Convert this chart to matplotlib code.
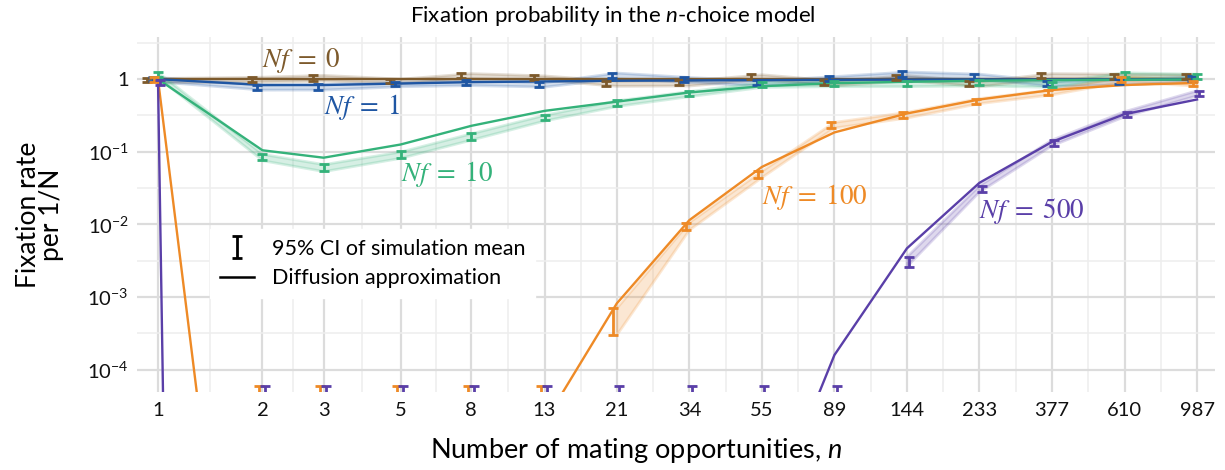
import numpy as np
import matplotlib.pyplot as plt
from matplotlib.ticker import FixedLocator, FixedFormatter, NullFormatter

plt.rcParams['font.family'] = ['Lato', 'DejaVu Sans']
plt.rcParams['mathtext.fontset'] = 'custom'
plt.rcParams['mathtext.rm'] = 'Lato'
plt.rcParams['mathtext.it'] = 'Lato:italic'

# number of mating opportunities (x categories)
n_vals = [1, 2, 3, 5, 8, 13, 21, 34, 55, 89, 144, 233, 377, 610, 987]
n_labels = [str(v) for v in n_vals]

# diffusion approximation (lines)
nf0_line = [1.0, 1.0, 1.0, 1.0, 1.0, 1.0, 1.0, 1.0, 1.0, 1.0, 1.0, 1.0, 1.0, 1.0, 1.0]
nf1_line = [1.0, 0.83, 0.83, 0.87, 0.91, 0.93, 0.95, 0.96, 0.97, 0.98, 0.985, 0.99, 0.99, 0.995, 0.995]
nf10_line = [1.0, 0.105, 0.083, 0.126, 0.228, 0.366, 0.49, 0.656, 0.80, 0.88, 0.92, 0.95, 0.97, 0.98, 0.99]
nf100_line = [1.0, 2.5e-12, 1e-10, 1e-8, 3e-7, 1.9e-5, 8.2e-4, 0.0115, 0.062, 0.185, 0.337, 0.525, 0.71, 0.83, 0.89]
nf500_line = [1.0, 1e-90, 1e-70, 1e-50, 1e-35, 1e-24, 1e-16, 1e-11, 5.5e-7, 1.6e-4, 4.7e-3, 0.0375, 0.137, 0.33, 0.525]

# simulation means (0 = no fixation observed)
nf0_sim = [0.97, 1.0, 1.05, 0.95, 1.12, 1.05, 0.88, 0.89, 1.08, 0.89, 1.05, 0.87, 1.12, 1.10, 1.08]
nf1_sim = [1.0, 0.78, 0.79, 0.86, 0.90, 0.85, 1.13, 0.99, 0.89, 1.02, 1.17, 1.10, 0.87, 0.92, 1.02]
nf10_sim = [1.15, 0.085, 0.061, 0.092, 0.164, 0.297, 0.47, 0.635, 0.85, 0.87, 0.87, 0.89, 0.85, 1.15, 1.10]
nf100_sim = [1.0, 0, 0, 0, 0, 0, 5e-4, 9.5e-3, 0.049, 0.233, 0.32, 0.50, 0.66, 1.0, 0.87]
nf500_sim = [0.9, 0, 0, 0, 0, 0, 0, 0, 0, 0, 3.1e-3, 0.031, 0.133, 0.33, 0.64]

# relative half-width of the 95% CI
nf0_err = [0.07, 0.08, 0.09, 0.07, 0.08, 0.07, 0.08, 0.08, 0.08, 0.08, 0.08, 0.08, 0.08, 0.08, 0.08]
nf1_err = [0.07, 0.08, 0.09, 0.07, 0.08, 0.07, 0.09, 0.08, 0.08, 0.08, 0.09, 0.08, 0.08, 0.08, 0.08]
nf10_err = [0.08, 0.10, 0.11, 0.10, 0.10, 0.09, 0.09, 0.08, 0.08, 0.08, 0.08, 0.08, 0.08, 0.08, 0.08]
nf100_err = [0.08, 0, 0, 0, 0, 0, 0.40, 0.12, 0.10, 0.09, 0.09, 0.08, 0.08, 0.08, 0.08]
nf500_err = [0.08, 0, 0, 0, 0, 0, 0, 0, 0, 0, 0.15, 0.10, 0.09, 0.08, 0.08]
zero_upper = 6e-5  # upper CI bound when no fixation was observed

series = [
    (r'$Nf\;=\;0$', nf0_line, nf0_sim, nf0_err, '#7d5a2c', -0.07),
    (r'$Nf\;=\;1$', nf1_line, nf1_sim, nf1_err, '#1f56a3', -0.035),
    (r'$Nf\;=\;10$', nf10_line, nf10_sim, nf10_err, '#34b27a', 0.0),
    (r'$Nf\;=\;100$', nf100_line, nf100_sim, nf100_err, '#ee8a26', -0.025),
    (r'$Nf\;=\;500$', nf500_line, nf500_sim, nf500_err, '#5a3fa8', 0.015),
]
label_pos = [(2.0, 1.83), (3.0, 0.41), (5.0, 0.049), (55.0, 0.024), (233.0, 0.0152)]

fig = plt.figure(figsize=(12.25, 4.70), dpi=100)
ax = fig.add_axes([137/1225, 1 - 392/470, (1215 - 137)/1225, (392 - 37)/470])
ax.set_xscale('log')
ax.set_yscale('log')
ax.set_xlim(0.87, 1112)
ax.set_ylim(10**-4.305, 10**0.58)

x = np.array(n_vals, dtype=float)
for (name, line, sim, err, col, dodge), (lx, ly) in zip(series, label_pos):
    sim = np.array(sim, dtype=float)
    err = np.array(err, dtype=float)
    pos = sim > 0
    lo = np.where(pos, sim * (1 - err), 1e-30)
    hi = np.where(pos, sim * (1 + err), zero_upper)
    mid = np.where(pos, sim, hi)
    # ribbon of the simulation CI
    ax.fill_between(x, np.where(pos, lo, np.nan), np.where(pos, hi, np.nan),
                    color=col, alpha=0.2, lw=2.0, edgecolor=col, zorder=2)
    ax.plot(x, line, color=col, lw=1.7, zorder=3)
    ax.errorbar(x * np.exp(dodge), mid, yerr=[mid - lo, hi - mid], fmt='none',
                ecolor=col, elinewidth=2.0, capsize=3.5, capthick=2.0, zorder=4)
    ax.text(lx, ly, name, color=col, fontsize=19.5, math_fontfamily='stix',
            ha='left', va='center', zorder=5)

# grid
ax.xaxis.set_major_locator(FixedLocator(n_vals))
ax.xaxis.set_major_formatter(FixedFormatter(n_labels))
ax.xaxis.set_minor_locator(FixedLocator([np.sqrt(a * b) for a, b in zip(n_vals[:-1], n_vals[1:])]))
ax.xaxis.set_minor_formatter(NullFormatter())
yt = [1e-4, 1e-3, 1e-2, 1e-1, 1]
ax.yaxis.set_major_locator(FixedLocator(yt))
ax.yaxis.set_major_formatter(FixedFormatter(['$10^{-4}$', '$10^{-3}$', '$10^{-2}$', '$10^{-1}$', '1']))
ax.yaxis.set_minor_locator(FixedLocator([10**(k + 0.5) for k in range(-5, 1)]))
ax.yaxis.set_minor_formatter(NullFormatter())
ax.grid(True, which='major', color='#dcdcdc', lw=1.6)
ax.grid(True, which='minor', color='#eeeeee', lw=1.1)
ax.set_axisbelow(True)
for s in ax.spines.values():
    s.set_visible(False)
ax.tick_params(which='both', length=0, labelsize=14.5, colors='#111111')
ax.tick_params(axis='x', pad=7)
ax.tick_params(axis='y', pad=6)

# legend
eb = ax.errorbar([np.nan], [np.nan], yerr=[[0.1], [0.1]], fmt='none', ecolor='black',
                 elinewidth=2.0, capsize=3.5, capthick=2.0)
ln, = ax.plot([], [], color='black', lw=1.8)
leg = ax.legend([eb, ln], ['95% CI of simulation mean', 'Diffusion approximation'],
                loc='upper left', bbox_to_anchor=(0.058, 0.49), frameon=True,
                fontsize=15.5, handlelength=1.6, handletextpad=0.8, borderpad=0.45,
                labelspacing=0.45, fancybox=False)
leg.get_frame().set_facecolor('white')
leg.get_frame().set_edgecolor('white')
leg.get_frame().set_alpha(1.0)

ax.set_xlabel('Number of mating opportunities, $n$', fontsize=19.5)
ax.xaxis.set_label_coords((636 - 137) / 1078, -0.125)
ax.set_ylabel('Fixation rate\nper 1/N', fontsize=19, linespacing=0.9)
ax.yaxis.set_label_coords(-0.068, 0.5)
fig.text(0.5, 1 - 16/470, 'Fixation probability in the $n$-choice model',
         ha='center', va='center', fontsize=16)

fig.savefig('out.png', dpi=100)
